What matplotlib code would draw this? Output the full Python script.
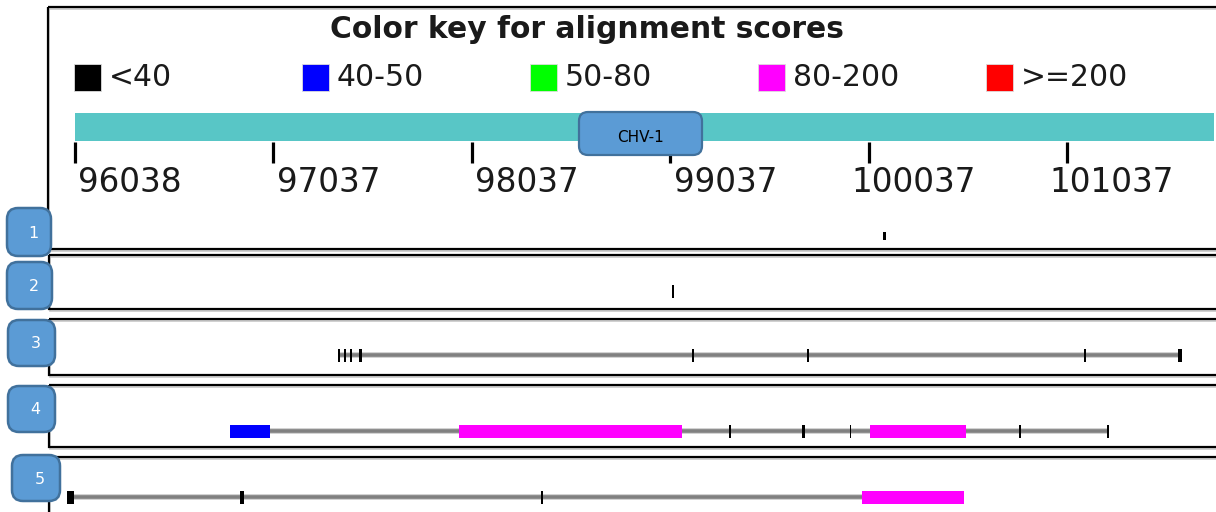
import matplotlib
matplotlib.use('Agg')
import matplotlib.pyplot as plt
from matplotlib.patches import Rectangle, FancyBboxPatch

# colour key
title = 'Color key for alignment scores'
key_labels = ['<40', '40-50', '50-80', '80-200', '>=200']
key_colors = ['#000000', '#0000ff', '#00ff00', '#ff00ff', '#ff0000']

# query ruler
ruler_ticks = [96038, 97037, 98037, 99037, 100037, 101037]
ruler_start = 96038
ruler_end = 101780
gene_name = 'CHV-1'

# hit tracks
track_ids = ['1', '2', '3', '4', '5']
# grey connector between the hits of one subject (None = no connector)
track_lines = [None, None, (97373, 101606), (96819, 101243), (95998, 100004)]
# hits: (start, end, index into key_colors)
track_hits = [
    [(100110, 100125, 0)],
    [(99048, 99055, 0)],
    [(97361, 97375, 0), (97396, 97406, 0), (97426, 97436, 0), (97471, 97484, 0),
     (99148, 99156, 0), (99728, 99736, 0), (101124, 101132, 0), (101597, 101616, 0)],
    [(96819, 97021, 1), (97973, 99097, 3), (99335, 99343, 0), (99704, 99718, 0),
     (99945, 99951, 0), (100044, 100528, 3), (100796, 100804, 0), (101239, 101247, 0)],
    [(95998, 96035, 0), (96869, 96889, 0), (98387, 98396, 0), (100004, 100518, 3)],
]

W, H = 1216, 512
fig = plt.figure(figsize=(W / 100, H / 100), dpi=100)


def pixel_axes():
    a = fig.add_axes([0, 0, 1, 1])
    a.set_xlim(0, W)
    a.set_ylim(H, 0)
    a.patch.set_visible(False)
    a.axis('off')
    return a


# layout axes in pixels (frames, key)
lay = pixel_axes()

# data axes: genomic x, pixel y
ax = fig.add_axes([0, 0, 1, 1])
ax.patch.set_visible(False)
upp = (ruler_ticks[-1] - ruler_ticks[0]) / 992.0
x0 = ruler_ticks[0] - 75 * upp
ax.set_xlim(x0, x0 + W * upp)
ax.set_ylim(H, 0)
ax.axis('off')

# overlay for the callout and badges
top = pixel_axes()

txt = '#1a1a1a'

# panel frames
frames = [(48, 7, 249), (49, 255, 309), (49, 319, 375), (49, 385, 447), (49, 457, 540)]
for fx, ft, fb in frames:
    lay.add_patch(Rectangle((fx + 1, ft + 2), 1300, fb - ft, fill=False,
                            edgecolor='#c8c8c8', lw=1.2, zorder=1))
    lay.add_patch(Rectangle((fx, ft), 1300, fb - ft, fill=False,
                            edgecolor='black', lw=1.6, zorder=2))

# title + colour key
lay.text(587, 30, title, ha='center', va='center', fontsize=21.4,
         fontweight='bold', color=txt)
for i, (lab, col) in enumerate(zip(key_labels, key_colors)):
    kx = 74 + i * 228
    lay.add_patch(Rectangle((kx, 64), 27, 27, facecolor=col,
                            edgecolor='#dddddd', lw=0.6, zorder=3))
    lay.text(kx + 35, 78, lab, ha='left', va='center', fontsize=21.5, color=txt)

# ruler
ax.broken_barh([(ruler_start, ruler_end - ruler_start)], (113, 28),
               facecolors='#58c6c6', zorder=3)
ax.vlines(ruler_ticks, 142, 163, colors='black', lw=2.3, zorder=3)
for t in ruler_ticks:
    ax.text(t + 107 * upp, 182, str(t), ha='right', va='center',
            fontsize=23.5, color=txt)

# gene callout
top.add_patch(FancyBboxPatch((579, 112), 123, 43,
                             boxstyle='round,pad=0,rounding_size=9',
                             facecolor='#5b9bd5', edgecolor='#41719c',
                             lw=1.6, zorder=5))
top.text(641, 137, gene_name, ha='center', va='center', fontsize=11,
         color='black', zorder=6)

# tracks
row_y = [236, 291, 355, 431, 497]
row_h = [8, 13, 13, 13, 13]
for yc, hh, line, hits in zip(row_y, row_h, track_lines, track_hits):
    if line is not None:
        ax.plot(line, [yc, yc], color='#d0d0d0', lw=4.2, solid_capstyle='butt', zorder=3)
        ax.plot(line, [yc, yc], color='#808080', lw=2.6, solid_capstyle='butt', zorder=3)
    for s, e, c in hits:
        ax.broken_barh([(s, e - s)], (yc - hh / 2, hh),
                       facecolors=key_colors[c], zorder=4)

# track number badges
badges = [(7, 208, 44, 48), (7, 262, 45, 47), (8, 320, 47, 46),
          (8, 386, 47, 46), (12, 455, 48, 46)]
for tid, (bx, by, bw, bh) in zip(track_ids, badges):
    top.add_patch(FancyBboxPatch((bx, by), bw, bh,
                                 boxstyle='round,pad=0,rounding_size=11',
                                 facecolor='#5b9bd5', edgecolor='#41719c',
                                 lw=1.8, zorder=7))
    top.text(bx + bw / 2 + 4, by + bh / 2 + 1, tid, ha='center', va='center',
             fontsize=11.5, color='white', zorder=8)

fig.savefig('out.png', dpi=100)
